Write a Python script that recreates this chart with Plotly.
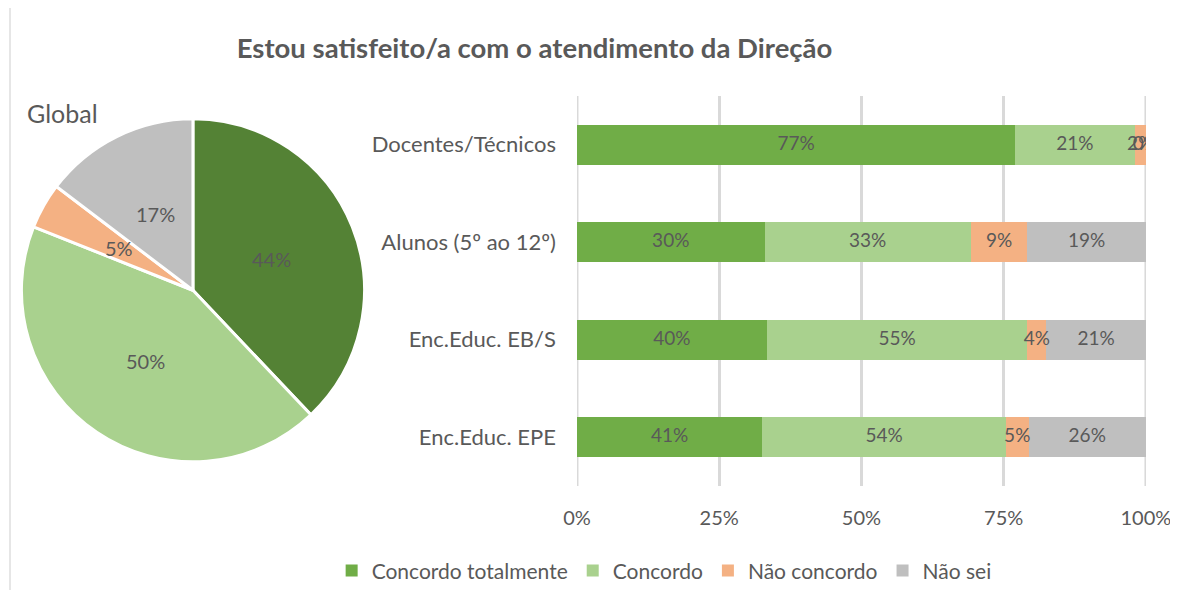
import math
import plotly.graph_objects as go

# data
groups = ['Docentes/Técnicos', 'Alunos (5º ao 12º)', 'Enc.Educ. EB/S', 'Enc.Educ. EPE']
answers = ['Concordo totalmente', 'Concordo', 'Não concordo', 'Não sei']
tot_concordo = [77, 30, 40, 41]
concordo = [21, 33, 55, 54]
nao_concordo = [2, 9, 4, 5]
nao_sei = [0, 19, 21, 26]
global_values = [44, 50, 5, 17]

bar_colors = ['#70AD47', '#A9D18E', '#F4B183', '#BFBFBF']
pie_colors = ['#548235', '#A9D18E', '#F4B183', '#BFBFBF']
grey_txt = '#595959'
FONT = 'Lato, Open Sans, sans-serif'
W, H = 1178, 590

series = [tot_concordo, concordo, nao_concordo, nao_sei]

fig = go.Figure()

# pie (Global)
pie_x = [0.0114, 0.3026]
pie_y = [0.2309, 0.8123]
fig.add_trace(go.Pie(
    values=global_values, labels=answers, sort=False, direction='clockwise', rotation=0,
    marker=dict(colors=pie_colors, line=dict(color='white', width=3)),
    textinfo='none', domain=dict(x=pie_x, y=pie_y), showlegend=False,
    hoverinfo='label+value'))

# pie labels at half radius, on the middle angle of each slice (Excel style)
cx = (pie_x[0] + pie_x[1]) / 2
cy = (pie_y[0] + pie_y[1]) / 2
radius_px = 170
annotations = []
total_g = sum(global_values)
cum = 0
for v in global_values:
    ang = (cum + v / 2) / total_g * 2 * math.pi
    cum += v
    annotations.append(dict(
        text=f'{v}%', xref='paper', yref='paper', showarrow=False,
        xanchor='center', yanchor='middle',
        x=cx + 0.5 * radius_px * math.sin(ang) / W,
        y=cy + 0.5 * radius_px * math.cos(ang) / H,
        font=dict(size=20, color=grey_txt, family=FONT)))

# stacked 100% bars
for name, vals, col in zip(answers, series, bar_colors):
    fig.add_trace(go.Bar(
        y=groups, x=vals, name=name, orientation='h', marker=dict(color=col, line=dict(width=0)),
        xaxis='x', yaxis='y', hoverinfo='name+x'))

# bar labels placed at segment centres (normalised like the bars)
lab_x, lab_y, lab_t = [], [], []
for i, g in enumerate(groups):
    total = sum(s[i] for s in series)
    cum = 0
    for s in series:
        lab_x.append((cum + s[i] / 2) / total * 100)
        lab_y.append(g)
        lab_t.append(f'{s[i]}%')
        cum += s[i]
fig.add_trace(go.Scatter(
    x=lab_x, y=lab_y, text=lab_t, mode='text', showlegend=False, hoverinfo='skip',
    textfont=dict(color=grey_txt, size=19, family=FONT)))

annotations.append(dict(text='Global', x=0.0144, y=0.822, xref='paper', yref='paper',
                        xanchor='left', yanchor='middle', showarrow=False,
                        font=dict(size=25, color=grey_txt, family=FONT)))

# edge gridlines (0% and 100%) that plotly drops at the range ends
shapes = [dict(type='line', xref='x', yref='y domain', x0=v, x1=v, y0=0, y1=1, layer='below',
               line=dict(color='#D9D9D9', width=3)) for v in (0, 100)]
shapes.append(dict(type='line', xref='paper', yref='paper', x0=0.0017, x1=0.0017, y0=-0.02,
                   y1=1.02, line=dict(color='#E6E6E6', width=2)))

fig.update_layout(
    width=W, height=H,
    margin=dict(l=0, r=0, t=0, b=0, autoexpand=False),
    paper_bgcolor='white', plot_bgcolor='white',
    font=dict(family=FONT, color=grey_txt, size=20),
    barmode='stack', barnorm='percent', bargap=0.59,
    title=dict(text='<b>Estou satisfeito/a com o atendimento da Direção</b>',
               x=0.447, xanchor='center', y=0.932, yanchor='middle',
               font=dict(size=27.5, color=grey_txt, family=FONT)),
    xaxis=dict(domain=[0.483, 0.966], range=[0, 100], tickvals=[0, 25, 50, 75, 100],
               ticktext=['0%', '25%', '50%', '75%', '100%'], showgrid=True,
               gridcolor='#D9D9D9', gridwidth=3, zeroline=False, showline=False,
               ticks='', tickfont=dict(size=20, color=grey_txt), ticklabelstandoff=18,
               fixedrange=True),
    yaxis=dict(domain=[0.1898, 0.8508], autorange='reversed', showgrid=False, zeroline=False,
               ticks='', ticklabelstandoff=20, tickfont=dict(size=22, color=grey_txt),
               fixedrange=True),
    legend=dict(orientation='h', x=0.557, xanchor='center', y=0.046, yanchor='middle',
                font=dict(size=21, color=grey_txt), itemwidth=30, traceorder='normal'),
    annotations=annotations,
    shapes=shapes,
)

fig.write_html('out.html')
